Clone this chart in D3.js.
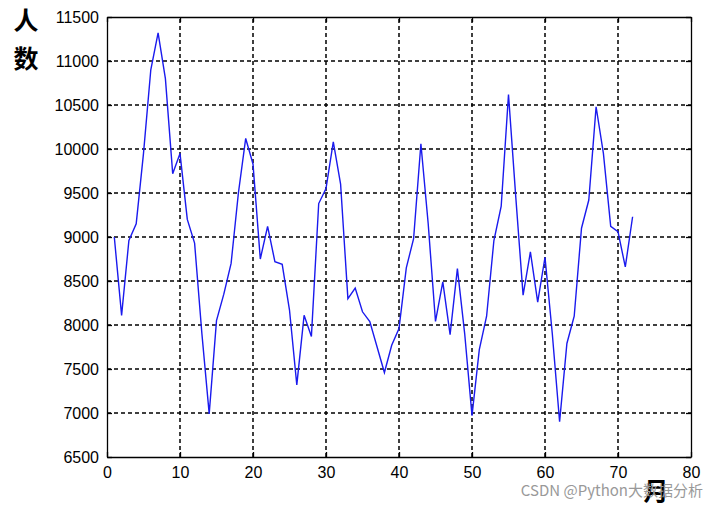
<!DOCTYPE html>
<html><head><meta charset="utf-8">
<script src="https://cdn.jsdelivr.net/npm/d3@7"></script>
<style>body{margin:0;background:#fff}</style>
</head><body>
<script>
const months = d3.range(1, 73);
const visitors = [9000,8110,8960,9150,9950,10900,11320,10800,9720,9950,
  9200,8930,7900,6990,8050,8350,8700,9500,10120,9830,
  8750,9120,8720,8690,8170,7320,8110,7870,9380,9550,
  10080,9600,8300,8420,8150,8040,7750,7460,7770,7960,
  8650,8980,10060,9150,8040,8490,7890,8640,7900,6970,
  7720,8100,8960,9350,10620,9450,8340,8830,8260,8770,
  7900,6900,7790,8100,9100,9420,10480,9950,9120,9060,
  8660,9230];
const xTicks = [0,10,20,30,40,50,60,70,80];
const yTicks = [6500,7000,7500,8000,8500,9000,9500,10000,10500,11000,11500];

const W = 718, H = 508;
const m = {l:107, r:27, t:17, b:51};
const svg = d3.select("body").append("svg").attr("width", W).attr("height", H);
const x = d3.scaleLinear().domain([0,80]).range([m.l, W - m.r]);
const y = d3.scaleLinear().domain([6500,11500]).range([H - m.b, m.t]);

const g = svg.append("g");
g.selectAll(".gx").data(xTicks.slice(1,-1)).join("line")
  .attr("x1", d=>x(d)).attr("x2", d=>x(d)).attr("y1", y(6500)).attr("y2", y(11500))
  .attr("stroke","#000").attr("stroke-width",1.5).attr("stroke-dasharray","4,3");
g.selectAll(".gy").data(yTicks.slice(1,-1)).join("line")
  .attr("y1", d=>y(d)).attr("y2", d=>y(d)).attr("x1", x(0)).attr("x2", x(80))
  .attr("stroke","#000").attr("stroke-width",1.5).attr("stroke-dasharray","4,3");

const font = "'Liberation Sans', Arial, sans-serif";
const fmt = d3.format("d");
const ax = svg.append("g").attr("transform", `translate(0,${y(6500)})`)
  .call(d3.axisBottom(x).tickValues(xTicks).tickFormat(fmt).tickSizeInner(-5).tickSizeOuter(0).tickPadding(10));
const ay = svg.append("g").attr("transform", `translate(${x(0)},0)`)
  .call(d3.axisLeft(y).tickValues(yTicks).tickFormat(fmt).tickSizeInner(-5).tickSizeOuter(0).tickPadding(8));
const axT = svg.append("g").attr("transform", `translate(0,${y(11500)})`)
  .call(d3.axisTop(x).tickValues(xTicks).tickSizeInner(-5).tickSizeOuter(0).tickFormat(""));
const ayR = svg.append("g").attr("transform", `translate(${x(80)},0)`)
  .call(d3.axisRight(y).tickValues(yTicks).tickSizeInner(-5).tickSizeOuter(0).tickFormat(""));
[ax, ay, axT, ayR].forEach(a => {
  a.select(".domain").attr("stroke","#000").attr("stroke-width",1.3);
  a.selectAll(".tick line").attr("stroke","#000").attr("stroke-width",1.3);
  a.selectAll("text").attr("font-family", font).attr("font-size", 16).attr("fill","#000");
});

svg.append("path").datum(months.map((mm,i)=>[mm, visitors[i]]))
  .attr("fill","none").attr("stroke","#1a1aee").attr("stroke-width",1.4)
  .attr("d", d3.line().x(d=>x(d[0])).y(d=>y(d[1])));

const cjk = "'Noto Sans CJK SC', sans-serif";
svg.append("text").attr("x", 26).attr("y", 30).attr("text-anchor","middle")
  .attr("font-family", cjk).attr("font-weight","bold").attr("font-size", 25).text("人");
svg.append("text").attr("x", 26).attr("y", 68).attr("text-anchor","middle")
  .attr("font-family", cjk).attr("font-weight","bold").attr("font-size", 25).text("数");
svg.append("text").attr("x", 656).attr("y", 500).attr("text-anchor","middle")
  .attr("font-family", cjk).attr("font-weight","bold").attr("font-size", 25).text("月");
svg.append("text").attr("x", 703).attr("y", 496).attr("text-anchor","end")
  .attr("font-family", cjk).attr("font-size", 15).attr("fill","#999").text("CSDN @Python大数据分析");
</script>
</body></html>
